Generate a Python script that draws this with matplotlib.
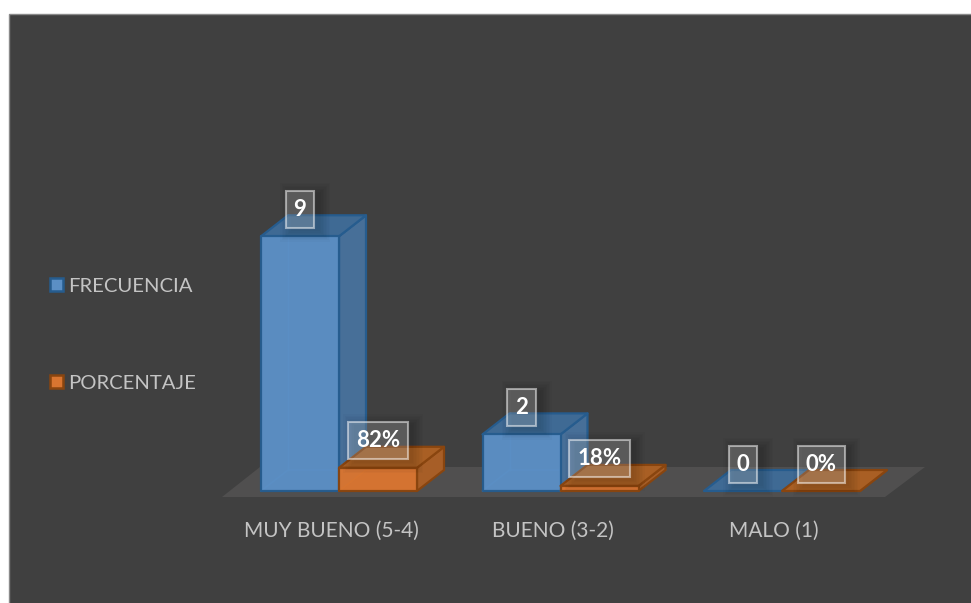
import matplotlib
matplotlib.use('Agg')
from matplotlib import pyplot as plt
from matplotlib.patches import Polygon, Rectangle, Patch

# data
categories = ['MUY BUENO (5-4)', 'BUENO (3-2)', 'MALO (1)']
frecuencia = [9, 2, 0]
porcentaje = [0.82, 0.18, 0.0]
frecuencia_labels = ['9', '2', '0']
porcentaje_labels = ['82%', '18%', '0%']
series_names = ['FRECUENCIA', 'PORCENTAJE']

plt.rcParams['font.family'] = ['Lato', 'DejaVu Sans']

W, H = 971, 603
BG = '#404040'
TXT = '#c4c4c4'

fig = plt.figure(figsize=(W / 100, H / 100), dpi=100, facecolor='white')
# panel oscuro, deja margen blanco arriba e izquierda
fig.add_artist(Rectangle((8.5 / W, -0.01), 1, (603 - 14.5) / H + 0.01, transform=fig.transFigure,
                         facecolor=BG, edgecolor='#8a8a8a', linewidth=1, zorder=-1))

ax = fig.add_axes([0, (H - 497) / H, 1, (497 - 15) / H])
ax.patch.set_visible(False)
for s in ax.spines.values():
    s.set_visible(False)

# escala: 221.5 px por categoria, 28.3 px por unidad
px_x = 221.5
px_y = 28.3
ax.set_xlim(-339 / px_x, (W - 339) / px_x)
ax.set_ylim(-6 / px_y, 476 / px_y)

bar_w = 78 / px_x
depth_x = 27 / px_x
depth_y = 21 / px_y

# piso
x0 = ax.get_xlim()[0]
floor_low = ax.get_ylim()[0]
floor_high = 24 / px_y
ax.add_patch(Polygon([(x0 + 222 / px_x, floor_low), (x0 + 885 / px_x, floor_low),
                      (x0 + 925 / px_x, floor_high), (x0 + 260 / px_x, floor_high)],
                     facecolor='#504f4f', edgecolor='none', zorder=1))

BLUE = dict(front='#5b8fc5', side='#476f98', top='#3f6a94', edge='#265c8e', back='#4d7fb0')
ORANGE = dict(front='#d97530', side='#a75e27', top='#a95f24', edge='#89450f', back='#b86528')


def draw_bar(xl, val, c, z):
    xr = xl + bar_w
    edge = dict(edgecolor=c['edge'], linewidth=1.6, joinstyle='round')
    # aristas traseras, se ven a traves de la cara frontal
    if val > 0:
        ax.plot([xl + depth_x, xl + depth_x], [depth_y, val + depth_y], color=c['back'], lw=1, zorder=z)
        ax.plot([xl, xl + depth_x, xr + depth_x], [0, depth_y, depth_y], color=c['back'], lw=1, zorder=z)
    ax.add_patch(Polygon([(xr, 0), (xr + depth_x, depth_y), (xr + depth_x, val + depth_y), (xr, val)],
                         facecolor=c['side'], zorder=z, **edge))
    ax.add_patch(Polygon([(xl, val), (xr, val), (xr + depth_x, val + depth_y), (xl + depth_x, val + depth_y)],
                         facecolor=c['top'], zorder=z, **edge))
    if val > 0:
        ax.bar(xl, val, width=bar_w, align='edge', color=c['front'], alpha=0.97, zorder=z + 0.1, **edge)


box_w = {1: 29, 2: 46, 3: 59}
box_h = 38


def draw_label(xc, val, txt):
    # sombra difusa
    w = box_w[len(txt)]
    for k in range(8):
        sw = (w + 3 * k) / px_x
        sh = (box_h + 3 * k) / px_y
        ax.add_patch(Rectangle((xc + 5 / px_x - sw / 2, val + 24 / px_y - sh / 2), sw, sh,
                               facecolor='black', edgecolor='none', alpha=0.018, zorder=9))
    ax.annotate(txt, (xc, val), xytext=(0, 19.4), textcoords='offset points',
                ha='center', va='center', color='white', fontsize=16, fontweight='bold',
                bbox=dict(boxstyle='square,pad=0.36', facecolor=(1, 1, 1, 0.2),
                          edgecolor=(1, 1, 1, 0.5), linewidth=1.5), zorder=10)


for i in range(len(categories)):
    draw_bar(i - bar_w, frecuencia[i], BLUE, 3)
    draw_bar(i, porcentaje[i], ORANGE, 5)
for i in range(len(categories)):
    draw_label(i - bar_w / 2, frecuencia[i], frecuencia_labels[i])
    draw_label(i + bar_w / 2, porcentaje[i], porcentaje_labels[i])

# eje x: etiquetas algo corridas a la izquierda por la perspectiva
ax.set_xticks([i - 8 / px_x for i in range(len(categories))])
ax.set_xticklabels(categories)
ax.tick_params(axis='x', length=0, pad=17, labelsize=15, labelcolor=TXT)
ax.set_yticks([])

handles = [Patch(facecolor=BLUE['front'], edgecolor=BLUE['edge'], linewidth=1.8),
           Patch(facecolor=ORANGE['front'], edgecolor=ORANGE['edge'], linewidth=1.8)]
leg = fig.legend(handles, series_names, loc='center left', bbox_to_anchor=(50 / W, 1 - 335 / H),
                 frameon=False, fontsize=14.6, labelcolor=TXT, handlelength=0.62, handleheight=0.62,
                 handletextpad=0.25, labelspacing=3.95, borderpad=0, borderaxespad=0)

fig.savefig('out.png', dpi=100)
